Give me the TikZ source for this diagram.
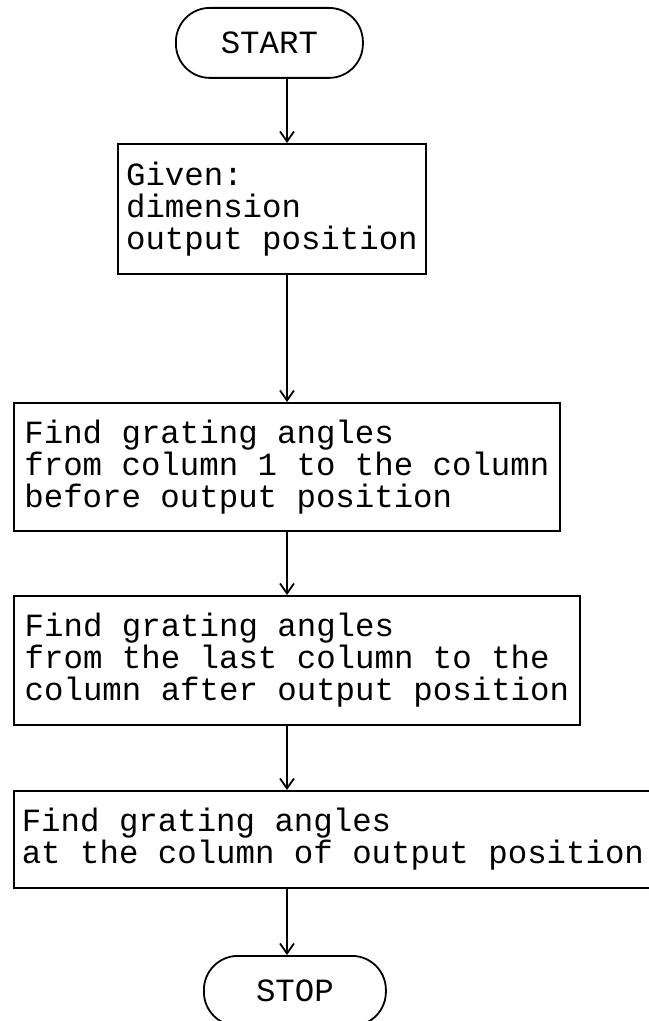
\documentclass[tikz,border=0pt]{standalone}
\usepackage{fontspec}
\newfontfamily\flowfont{Liberation Mono}
\usetikzlibrary{arrows.meta}

\tikzset{
    box/.style={draw, line width=0.9pt, anchor=north west, align=left, inner sep=0pt,
        font=\flowfont\fontsize{16.2}{16}\selectfont},
    term/.style={box, align=center, rounded corners=17pt},
    flow/.style={line width=0.9pt, -{Straight Barb[length=5pt,width=7pt]}},
}

\begin{document}
\begin{tikzpicture}[x=0.5pt,y=-0.5pt]
    \useasboundingbox (0,0) rectangle (648,1021);
    \pgfmathsetmacro{\ax}{287}
    \coordinate (ax) at (\ax,0);
    \node[term, minimum width=93.5pt, minimum height=35pt] (start) at (175,7) {START};
    \node[box, minimum width=154pt, minimum height=65pt] (given) at (117,143)
        {Given:\\dimension\\output position};
    \node[box, minimum width=273pt, minimum height=64pt] (findbefore) at (13,402)
        {Find grating angles\\from column 1 to the column\\before output position};
    \node[box, minimum width=283pt, minimum height=64.5pt] (findafter) at (13,595)
        {Find grating angles\\from the last column to the\\column after output position};
    \node[box, minimum width=319pt, minimum height=48.5pt] (findat) at (13,790)
        {Find grating angles\\at the column of output position};
    \node[term, minimum width=91pt, minimum height=35pt] (stop) at (203,955) {STOP};
    \draw[flow] (start.south -| ax) -- (given.north -| ax);
    \draw[flow] (given.south -| ax) -- (findbefore.north -| ax);
    \draw[flow] (findbefore.south -| ax) -- (findafter.north -| ax);
    \draw[flow] (findafter.south -| ax) -- (findat.north -| ax);
    \draw[flow] (findat.south -| ax) -- (stop.north -| ax);
\end{tikzpicture}
\end{document}
